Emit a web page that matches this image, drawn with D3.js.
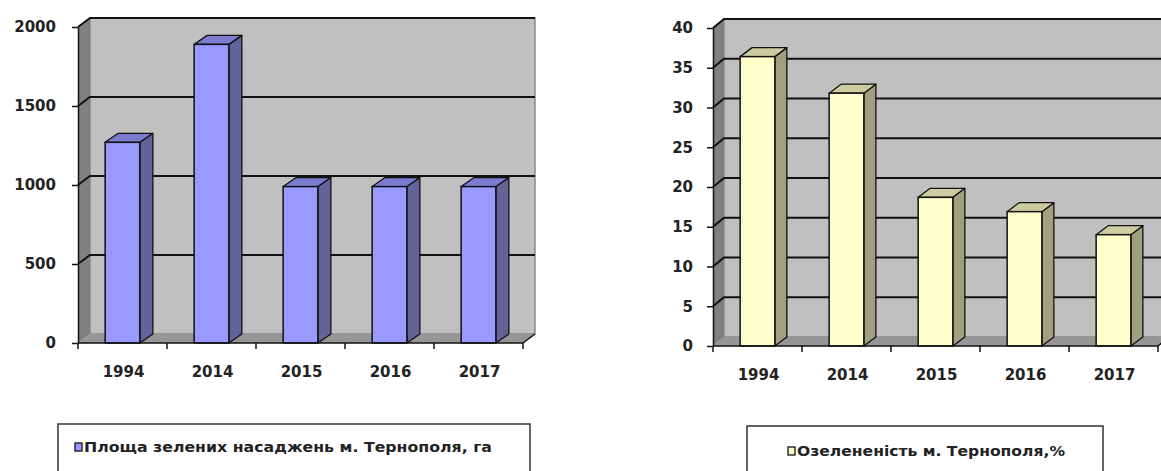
<!DOCTYPE html>
<html><head><meta charset="utf-8">
<script src="https://cdn.jsdelivr.net/npm/d3@7"></script>
<style>body{margin:0;background:#fff}svg{display:block}</style>
</head><body>
<svg id="c" width="1161" height="471"></svg>
<script>
const categories = ["1994", "2014", "2015", "2016", "2017"];
const areaValues = [1270, 1890, 990, 990, 990];
const areaTicks = [0, 500, 1000, 1500, 2000];
const greenValues = [36.4, 31.8, 18.7, 16.9, 14.0];
const greenTicks = [0, 5, 10, 15, 20, 25, 30, 35, 40];
const areaLegend = "Площа зелених насаджень м. Тернополя, га";
const greenLegend = "Озелененість м. Тернополя,%";

const svg = d3.select("#c");
svg.append("rect").attr("width", 1161).attr("height", 471).attr("fill", "#fff");
const FONT = "'DejaVu Sans', sans-serif";

function drawChart(o) {
  const g = svg.append("g");
  const x = d3.scaleBand().domain(categories).range([o.x0, o.x0 + o.width]).padding(0);
  const y = d3.scaleLinear().domain([0, o.max]).range([o.y0, o.yTop]);
  const dx = o.dx, dy = o.dy;
  const x1 = o.x0 + o.width;
  // back wall
  g.append("rect").attr("x", o.x0 + dx).attr("y", y(o.max) - dy)
    .attr("width", o.width).attr("height", o.y0 - y(o.max))
    .attr("fill", "#c0c0c0").attr("stroke", "#8a8a8a").attr("stroke-width", 1.5);
  // side wall
  g.append("path").attr("d", `M${o.x0},${o.y0}L${o.x0},${y(o.max)}L${o.x0 + dx},${y(o.max) - dy}L${o.x0 + dx},${o.y0 - dy}Z`)
    .attr("fill", "#808080");
  // floor
  g.append("path").attr("d", `M${o.x0},${o.y0}L${o.x0 + dx},${o.y0 - dy}L${x1 + dx},${o.y0 - dy}L${x1},${o.y0}Z`)
    .attr("fill", "#969696");
  // gridlines
  o.ticks.filter(t => t > 0).forEach(t => {
    g.append("path").attr("d", `M${o.x0},${y(t)}L${o.x0 + dx},${y(t) - dy}L${x1 + dx},${y(t) - dy}`)
      .attr("fill", "none").attr("stroke", "#111").attr("stroke-width", 2);
  });
  // bars
  const bw = x.bandwidth() * 0.39;
  const bdx = dx + 1, bdy = dy;
  categories.forEach((c, i) => {
    const v = o.values[i];
    const cx = x(c) + x.bandwidth() / 2;
    const a = cx - bw / 2, b = cx + bw / 2, yv = y(v);
    g.append("path").attr("d", `M${b},${yv}L${b + bdx},${yv - bdy}L${b + bdx},${o.y0 - bdy}L${b},${o.y0}Z`)
      .attr("fill", o.side).attr("stroke", "#111").attr("stroke-width", 1.3).attr("stroke-linejoin", "round");
    g.append("path").attr("d", `M${a},${yv}L${a + bdx},${yv - bdy}L${b + bdx},${yv - bdy}L${b},${yv}Z`)
      .attr("fill", o.top).attr("stroke", "#111").attr("stroke-width", 1.3).attr("stroke-linejoin", "round");
    g.append("rect").attr("x", a).attr("y", yv).attr("width", bw).attr("height", o.y0 - yv)
      .attr("fill", o.front).attr("stroke", "#111").attr("stroke-width", 1.5);
  });
  // y axis
  const ya = g.append("g").attr("transform", `translate(${o.x0},0)`)
    .call(d3.axisLeft(y).tickValues(o.ticks).tickSize(6).tickSizeOuter(0).tickFormat(""));
  ya.select(".domain").attr("stroke", "#111").attr("stroke-width", 1.5);
  ya.selectAll(".tick line").attr("stroke", "#111").attr("stroke-width", 1.5);
  o.ticks.forEach(t => {
    g.append("text").attr("x", o.labelX).attr("y", y(t)).attr("dy", "0.36em")
      .attr("text-anchor", "end").attr("font-family", FONT).attr("font-size", 15)
      .attr("font-weight", "bold").attr("fill", "#222").text(t);
  });
  // x axis
  g.append("line").attr("x1", o.x0).attr("x2", x1).attr("y1", o.y0).attr("y2", o.y0)
    .attr("stroke", "#111").attr("stroke-width", 1.5);
  const edges = categories.map(c => x(c)).concat([x1]);
  edges.forEach(e => {
    g.append("line").attr("x1", e).attr("x2", e).attr("y1", o.y0).attr("y2", o.y0 + 6)
      .attr("stroke", "#111").attr("stroke-width", 1.5);
  });
  g.append("line").attr("x1", x1).attr("y1", o.y0).attr("x2", x1 + dx).attr("y2", o.y0 - dy)
    .attr("stroke", "#111").attr("stroke-width", 1.5);
  categories.forEach(c => {
    g.append("text").attr("x", x(c) + x.bandwidth() / 2 + 1).attr("y", o.y0 + 34)
      .attr("text-anchor", "middle").attr("font-family", FONT).attr("font-size", 15)
      .attr("font-weight", "bold").attr("fill", "#222").text(c);
  });
  // legend
  const L = o.legend;
  g.append("rect").attr("x", L.x).attr("y", L.y).attr("width", L.w).attr("height", 80)
    .attr("fill", "#fff").attr("stroke", "#333").attr("stroke-width", 1.5);
  g.append("rect").attr("x", L.sx).attr("y", L.sy).attr("width", 7).attr("height", 8)
    .attr("fill", o.front).attr("stroke", "#111").attr("stroke-width", 1.3);
  g.append("text").attr("x", L.sx + 9).attr("y", L.sy + 8.5)
    .attr("font-family", FONT).attr("font-size", 14).attr("font-weight", "bold")
    .attr("textLength", L.tl).attr("lengthAdjust", "spacingAndGlyphs")
    .attr("fill", "#222").text(L.text);
}

drawChart({
  x0: 78, width: 445, y0: 343, yTop: 27, max: 2000, dx: 12, dy: 9,
  ticks: areaTicks, values: areaValues, labelX: 56,
  front: "#9999ff", side: "#636399", top: "#7b7bd0",
  legend: { x: 58, y: 424, w: 472, sx: 75, sy: 443, tl: 408, text: areaLegend }
});
drawChart({
  x0: 713, width: 445, y0: 346, yTop: 28, max: 40, dx: 11, dy: 9,
  ticks: greenTicks, values: greenValues, labelX: 693,
  front: "#ffffcc", side: "#a0a080", top: "#cccca0",
  legend: { x: 747, y: 426, w: 356, sx: 788, sy: 447, tl: 268, text: greenLegend }
});
</script>
</body></html>
